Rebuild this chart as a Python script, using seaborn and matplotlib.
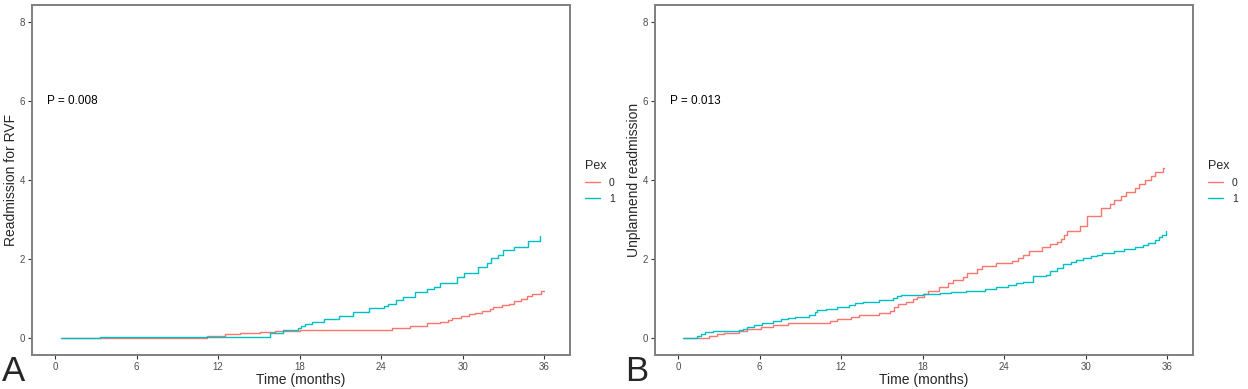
import matplotlib.pyplot as plt
import pandas as pd
import numpy as np
import seaborn as sns

# panel A: readmission for RVF (mean cumulative count), step points
a0_t = [0.44, 1.45, 11.2, 12.5, 13.6, 15.1, 16.2, 18.0, 21.3, 24.8, 26.1, 27.4, 28.3, 28.9,
        29.2, 29.9, 30.5, 30.9, 31.4, 32.0, 32.2, 32.9, 33.4, 33.8, 34.3, 34.7, 35.1, 35.8, 36.0]
a0_y = [0.0, 0.02, 0.06, 0.10, 0.13, 0.16, 0.18, 0.20, 0.22, 0.25, 0.31, 0.38, 0.41, 0.46,
        0.52, 0.57, 0.61, 0.65, 0.70, 0.74, 0.80, 0.84, 0.88, 0.94, 1.00, 1.07, 1.13, 1.19, 1.19]
a1_t = [0.44, 3.3, 15.8, 16.8, 17.9, 18.1, 18.4, 18.9, 19.8, 20.9, 21.9, 23.1, 24.2, 24.5,
        25.1, 25.6, 26.5, 27.4, 27.9, 28.3, 29.6, 30.1, 31.1, 31.8, 32.1, 32.6, 33.0, 33.8,
        34.8, 35.66, 35.7]
a1_y = [0.0, 0.03, 0.14, 0.20, 0.25, 0.30, 0.37, 0.41, 0.48, 0.56, 0.67, 0.76, 0.82, 0.88,
        0.97, 1.05, 1.18, 1.24, 1.30, 1.39, 1.54, 1.64, 1.81, 1.91, 2.02, 2.10, 2.23, 2.31,
        2.45, 2.58, 2.58]

# panel B: unplanned readmission
b0_t = [0.35, 2.3, 2.9, 3.4, 4.5, 5.1, 6.1, 7.0, 8.1, 11.2, 11.7, 12.7, 13.3, 14.8, 15.6,
        15.9, 16.2, 16.8, 17.3, 17.6, 18.1, 18.4, 19.2, 19.9, 20.2, 21.0, 21.3, 22.0, 22.4,
        23.4, 24.6, 25.0, 25.4, 25.8, 26.8, 27.4, 27.9, 28.2, 28.4, 28.6, 29.6, 30.1, 31.1,
        31.8, 32.1, 32.6, 33.0, 33.6, 33.9, 34.4, 34.8, 35.1, 35.7, 35.75]
b0_y = [0.0, 0.05, 0.10, 0.14, 0.18, 0.23, 0.28, 0.34, 0.40, 0.45, 0.50, 0.54, 0.60, 0.65,
        0.70, 0.80, 0.88, 0.93, 1.00, 1.05, 1.12, 1.20, 1.30, 1.40, 1.48, 1.55, 1.65, 1.75,
        1.82, 1.90, 1.95, 2.03, 2.10, 2.20, 2.30, 2.38, 2.43, 2.50, 2.60, 2.70, 2.85, 3.10,
        3.30, 3.40, 3.50, 3.60, 3.70, 3.80, 3.90, 4.00, 4.10, 4.20, 4.30, 4.30]
b1_t = [0.35, 1.1, 1.4, 1.7, 2.0, 2.6, 4.5, 4.8, 5.1, 5.6, 6.2, 7.0, 7.6, 8.1, 8.6, 9.6,
        10.1, 10.2, 10.9, 11.7, 12.6, 13.0, 13.6, 14.8, 15.8, 16.1, 16.4, 18.0, 19.3, 20.1,
        21.2, 22.6, 23.4, 24.3, 24.9, 25.4, 26.1, 27.1, 27.4, 27.9, 28.3, 28.9, 29.3, 29.8,
        30.4, 30.8, 31.2, 32.1, 32.8, 33.6, 34.2, 34.6, 35.1, 35.4, 35.6, 35.9]
b1_y = [0.0, 0.02, 0.07, 0.12, 0.15, 0.18, 0.20, 0.24, 0.28, 0.33, 0.38, 0.43, 0.48, 0.52,
        0.55, 0.60, 0.66, 0.72, 0.75, 0.79, 0.85, 0.90, 0.93, 0.97, 1.02, 1.06, 1.10, 1.12,
        1.14, 1.16, 1.20, 1.25, 1.30, 1.35, 1.40, 1.43, 1.57, 1.60, 1.70, 1.78, 1.87, 1.92,
        1.97, 2.03, 2.07, 2.10, 2.15, 2.20, 2.25, 2.30, 2.35, 2.42, 2.48, 2.55, 2.60, 2.70]

groups = ["0", "1"]
x_ticks = [0, 6, 12, 18, 24, 30, 36]
y_ticks = [0, 2, 4, 6, 8]
panels = [
    ("A", "Readmission for RVF", "P = 0.008", (a0_t, a0_y), (a1_t, a1_y)),
    ("B", "Unplannend readmission", "P = 0.013", (b0_t, b0_y), (b1_t, b1_y)),
]

sns.set_theme(style="white")
plt.rcParams["font.family"] = ["Liberation Sans", "DejaVu Sans"]
palette = {"0": "#F8766D", "1": "#00BFC4"}

fig = plt.figure(figsize=(12.48, 3.89), dpi=100)
lefts = [32 / 1248, 655 / 1248]
for (tag, ylab, ptxt, s0, s1), left in zip(panels, lefts):
    ax = fig.add_axes([left, 34 / 389, 538 / 1248, 350 / 389])
    df = pd.concat([
        pd.DataFrame({"t": s0[0], "y": s0[1], "Pex": "0"}),
        pd.DataFrame({"t": s1[0], "y": s1[1], "Pex": "1"}),
    ])
    sns.lineplot(data=df, x="t", y="y", hue="Pex", hue_order=groups, palette=palette,
                 estimator=None, sort=False, drawstyle="steps-post", linewidth=1.0, ax=ax)
    ax.set_xlim(-1.7, 37.9)
    ax.set_ylim(-0.42, 8.42)
    ax.set_xticks(x_ticks)
    ax.set_yticks(y_ticks)
    ax.tick_params(axis="both", length=3, width=0.8, color="#333333", labelsize=7,
                   labelcolor="#4D4D4D", pad=2, bottom=True, left=True)
    for sp in ax.spines.values():
        sp.set_color("#7F7F7F")
        sp.set_linewidth(1.4)
    ax.set_xlabel("Time (months)", fontsize=10, labelpad=1)
    ax.set_ylabel(ylab, fontsize=10, labelpad=1)
    ax.text(-0.6, 6, ptxt, fontsize=8.5, va="center", ha="left", color="black")
    leg = ax.legend(title="Pex", loc="upper left", bbox_to_anchor=(1.01, 0.585),
                    frameon=False, fontsize=7.5, title_fontsize=9, handlelength=1.5,
                    labelspacing=0.6)
    leg._legend_box.align = "left"
    fig.text(left - 30 / 1248, 0.003, tag, fontsize=25, ha="left", va="bottom")

fig.savefig("out.png", dpi=100)
